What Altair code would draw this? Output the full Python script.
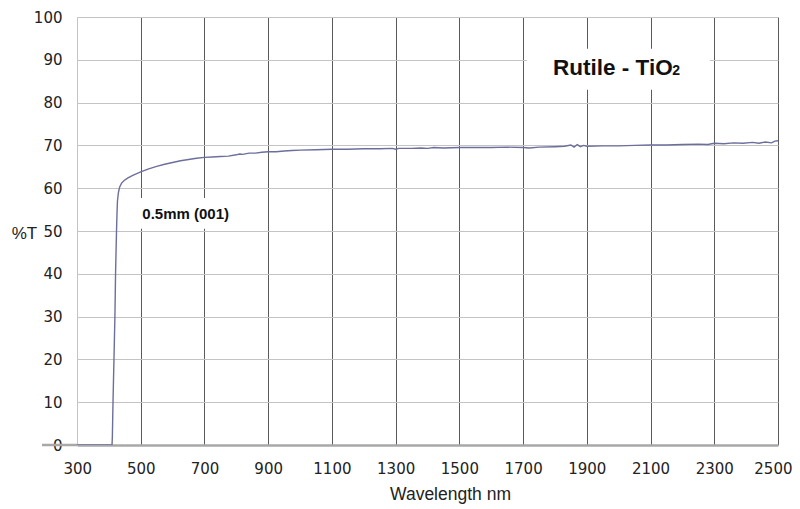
import altair as alt
import pandas as pd

wavelength = [300, 350, 400, 410, 411, 412, 413, 414.5, 416, 417.5, 419, 420, 421, 422.5, 424, 425.5, 427, 430, 434,
              440, 448, 460, 475, 500, 525, 550, 575, 600, 625, 650, 675, 700, 725, 750, 775, 800, 810, 820, 840,
              860, 880, 900, 925, 950, 975, 1000, 1050, 1100, 1150, 1200, 1250, 1290, 1300, 1310, 1350, 1380,
              1400, 1420, 1450, 1500, 1550, 1600, 1650, 1700, 1720, 1750, 1800, 1830, 1850, 1860, 1870, 1880,
              1890, 1900, 1950, 2000, 2050, 2100, 2150, 2200, 2250, 2280, 2300, 2330, 2360, 2390, 2420, 2440,
              2460, 2480, 2490, 2500]
transmission = [0, 0, 0, 0, 2, 6, 10, 15, 20, 25, 30, 35, 40, 45, 50, 54, 57, 59, 60.3,
                61.2, 61.8, 62.4, 63.0, 63.8, 64.5, 65.1, 65.6, 66.0, 66.4, 66.7, 67.0, 67.2, 67.3, 67.4, 67.5, 67.8, 68.0, 67.9, 68.2,
                68.2, 68.4, 68.5, 68.5, 68.7, 68.8, 68.9, 69.0, 69.1, 69.1, 69.2, 69.2, 69.3, 69.1, 69.3, 69.3, 69.4,
                69.3, 69.5, 69.4, 69.5, 69.5, 69.5, 69.6, 69.5, 69.4, 69.6, 69.7, 69.8, 70.1, 69.6, 70.2, 69.7,
                70.0, 69.8, 69.9, 69.9, 70.0, 70.1, 70.1, 70.2, 70.3, 70.2, 70.5, 70.4, 70.6, 70.5, 70.7, 70.5,
                70.8, 70.6, 71.0, 71.1]

x_ticks = [300, 500, 700, 900, 1100, 1300, 1500, 1700, 1900, 2100, 2300, 2500]
y_ticks = [0, 10, 20, 30, 40, 50, 60, 70, 80, 90, 100]

title_main = "Rutile - TiO"
title_sub = "2"
sample_label = "0.5mm (001)"

df = pd.DataFrame({"wl": wavelength, "T": transmission})
one = pd.DataFrame({"k": [0]})

xscale = alt.Scale(domain=[300, 2500], nice=False, zero=False)
yscale = alt.Scale(domain=[0, 100], nice=False)

line = alt.Chart(df).mark_line(color="#6b6f9c", strokeWidth=1.4, clip=True).encode(
    x=alt.X("wl:Q", scale=xscale, axis=alt.Axis(
        values=x_ticks, format="d", labelOverlap=False, labelFlush=True, labelFlushOffset=14,
        title="Wavelength nm", grid=True,
        gridColor={"condition": {"test": "datum.value == 300", "value": "#c4c4c4"}, "value": "#5a5a5a"},
        gridWidth=1, ticks=False, domain=True, domainColor="#a8a8a8", domainWidth=2.5,
        labelFont="DejaVu Sans", labelFontSize=15, labelColor="#222", labelPadding=16,
        titleFont="Liberation Sans", titleFontSize=17.5, titleFontWeight="normal", titleColor="#222",
        titleX=373, titleY=54, titleBaseline="alphabetic", titleAlign="center")),
    y=alt.Y("T:Q", scale=yscale, axis=alt.Axis(
        values=y_ticks, title="%T", grid=True, gridColor="#c4c4c4", gridWidth=1,
        ticks=False, domain=False, labelFlush=False,
        labelFont="DejaVu Sans", labelFontSize=15, labelColor="#222", labelPadding=15,
        titleFont="Liberation Sans", titleFontSize=17, titleFontWeight="normal", titleColor="#222",
        titleAngle=0, titleX=-53, titleY=221, titleBaseline="alphabetic", titleAlign="center")),
)

zero_tick = alt.Chart(one).mark_rule(color="#a8a8a8", strokeWidth=2.5).encode(
    x=alt.value(-35), x2=alt.value(0), y=alt.datum(0, scale=yscale))

box1 = alt.Chart(one).mark_rect(color="white").encode(
    x=alt.datum(1712, scale=xscale), x2=alt.datum(2286),
    y=alt.datum(92.6, scale=yscale), y2=alt.datum(83.0))
box2 = alt.Chart(one).mark_rect(color="white").encode(
    x=alt.datum(491, scale=xscale), x2=alt.datum(799),
    y=alt.datum(57.7, scale=yscale), y2=alt.datum(50.5))

t1 = alt.Chart(one).mark_text(text=title_main, font="Liberation Sans", fontSize=22.5, fontWeight="bold",
                              align="left", baseline="alphabetic", color="#111").encode(
    x=alt.datum(1794, scale=xscale), y=alt.datum(86.5, scale=yscale))
t1s = alt.Chart(one).mark_text(text=title_sub, font="Liberation Sans", fontSize=14, fontWeight="bold",
                               align="left", baseline="alphabetic", color="#111").encode(
    x=alt.datum(2168, scale=xscale), y=alt.datum(86.5, scale=yscale))
t2 = alt.Chart(one).mark_text(text=sample_label, font="Liberation Sans", fontSize=15, fontWeight="bold",
                              align="left", baseline="alphabetic", color="#111").encode(
    x=alt.datum(505, scale=xscale), y=alt.datum(52.7, scale=yscale))

chart = alt.layer(box1, box2, zero_tick, line, t1, t1s, t2).properties(
    width=701, height=428,
    autosize=alt.AutoSizeParams(type="none"),
    padding={"left": 69, "top": 9, "right": 14, "bottom": 60},
).configure_view(stroke=None).configure(background="white")

chart.save("out.html", embed_options={"renderer": "svg", "actions": False})
